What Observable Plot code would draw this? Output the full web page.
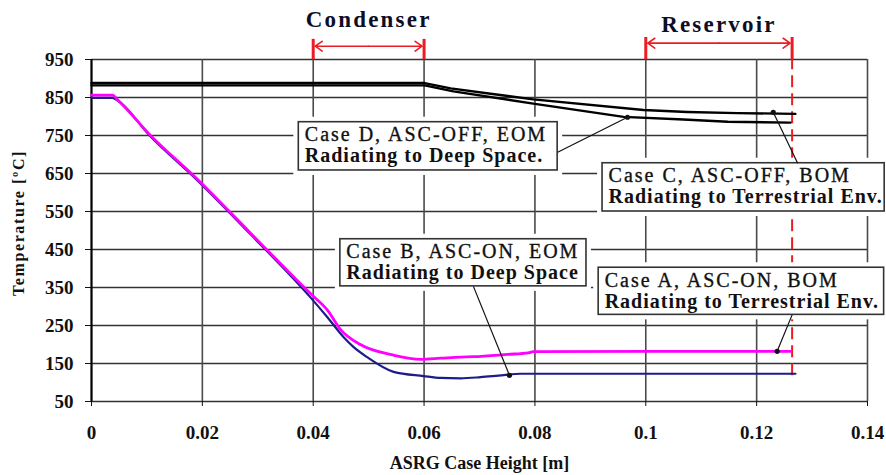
<!DOCTYPE html>
<html><head><meta charset="utf-8">
<script src="https://cdn.jsdelivr.net/npm/d3@7"></script>
<script src="https://cdn.jsdelivr.net/npm/@observablehq/plot@0.6"></script>
<style>html,body{margin:0;padding:0;background:#fff;} #chart{width:886px;height:475px;overflow:hidden;}</style>
</head><body><div id="chart"></div>
<script>
// ---- axes ----
const xTicks = [0, 0.02, 0.04, 0.06, 0.08, 0.1, 0.12, 0.14];
const xTickLabels = ["0", "0.02", "0.04", "0.06", "0.08", "0.1", "0.12", "0.14"];
const yTicks = [50, 150, 250, 350, 450, 550, 650, 750, 850, 950];
const yTickLabels = ["50", "150", "250", "350", "450", "550", "650", "750", "850", "950"];
const xLabel = "ASRG Case Height [m]";
const yLabel = "Temperature [ºC]";

// ---- series ----
const caseAx = [0, 0.0038, 0.0047, 0.0106, 0.0191, 0.0287, 0.0395, 0.0426, 0.0449, 0.0485, 0.0545, 0.0594, 0.0630, 0.0666, 0.0689, 0.0751, 0.0788, 0.0797, 0.1000, 0.1261];
const caseAy = [856, 856, 844, 751, 635, 493, 334, 290, 240, 200, 172, 161, 164, 167, 168, 174, 178, 181, 182, 182];
const caseBx = [0, 0.0038, 0.0047, 0.0106, 0.0191, 0.0287, 0.0395, 0.0426, 0.0455, 0.0473, 0.0498, 0.0545, 0.0599, 0.0630, 0.0666, 0.0702, 0.0734, 0.0774, 0.1000, 0.1270];
const caseBy = [849, 849, 842, 748, 632, 490, 324, 271, 219, 193, 166, 128, 117, 112, 111, 114, 118, 123, 123, 123];
const caseCx = [0, 0.0601, 0.0648, 0.0720, 0.0797, 0.0996, 0.1075, 0.1165, 0.1270];
const caseCy = [888, 888, 874, 860, 845, 817, 812, 809, 807];
const caseDx = [0, 0.0601, 0.0653, 0.0797, 0.0960, 0.1068, 0.1148, 0.1261];
const caseDy = [882, 882, 866, 834, 799, 792, 786, 784];

// ---- annotation boxes (data units) ----
const boxLine1 = ["Case D, ASC-OFF, EOM", "Case C, ASC-OFF, BOM", "Case B, ASC-ON, EOM", "Case A, ASC-ON, BOM"];
const boxLine2 = ["Radiating to Deep Space.", "Radiating to Terrestrial Env.", "Radiating to Deep Space", "Radiating to Terrestrial Env."];
const boxX1 = [0.0374, 0.0922, 0.0449, 0.0915];
const boxX2 = [0.0841, 0.1431, 0.0893, 0.1430];
const boxBottom = [658, 550, 353, 278];
const boxTop = [785, 677, 477, 402];
const pointX = [0.0967, 0.1230, 0.0754, 0.1237];
const pointY = [798, 811, 119, 182];
const leaderX = [0.0841, 0.1274, 0.0689, 0.1264];
const leaderY = [706, 677, 353, 278];

// ---- region markers ----
const spanNames = ["Condenser", "Reservoir"];
const spanStart = [0.04, 0.1];
const spanEnd = [0.06, 0.1264];
const spanTop = [1003, 1008];
const spanArrowY = [985, 993];
const spanLabelY = [1035, 1022];
const dashBottom = 118;

const serif = "'Liberation Serif', 'Times New Roman', Times, serif";
const red = "#ec1c24";
const rows = (xs, ys) => xs.map((x, i) => ({x, y: ys[i]}));
const xLab = new Map(xTicks.map((t, i) => [t, xTickLabels[i]]));
const yLab = new Map(yTicks.map((t, i) => [t, yTickLabels[i]]));
const boxes = boxLine1.map((t, i) => ({
  x1: boxX1[i], x2: boxX2[i], y1: boxBottom[i], y2: boxTop[i],
  line1: t, line2: boxLine2[i], px: pointX[i], py: pointY[i], lx: leaderX[i], ly: leaderY[i]
}));
const spans = spanNames.map((n, i) => ({
  name: n, x1: spanStart[i], x2: spanEnd[i], mid: (spanStart[i] + spanEnd[i]) / 2,
  top: spanTop[i], ay: spanArrowY[i], ly: spanLabelY[i]
}));
const bars = spans.flatMap(s => [{x: s.x1, top: s.top}, {x: s.x2, top: s.top}]);

const plot = Plot.plot({
  width: 886, height: 475,
  marginLeft: 91, marginRight: 19, marginTop: 59, marginBottom: 74,
  x: {domain: [0, 0.14]},
  y: {domain: [50, 950]},
  style: {fontFamily: serif, background: "#fff", color: "#111"},
  marks: [
    Plot.gridY(yTicks, {stroke: "#333", strokeOpacity: 1, strokeWidth: 1.6}),
    Plot.gridX(xTicks, {stroke: "#4a4a4a", strokeOpacity: 1, strokeWidth: 1.6}),
    Plot.ruleX([spanEnd[1]], {y1: dashBottom, y2: 950, stroke: red, strokeWidth: 2, strokeDasharray: "12,6"}),
    Plot.axisX(xTicks, {tickSize: 5, tickPadding: 19, tickFormat: d => xLab.get(d), fontSize: 19, fontWeight: "bold", fontFamily: serif, label: null, color: "#111"}),
    Plot.axisY(yTicks, {tickSize: 6, tickPadding: 12, tickFormat: d => yLab.get(d), fontSize: 19, fontWeight: "bold", fontFamily: serif, label: null, color: "#111"}),
    Plot.ruleX([0], {stroke: "#000", strokeWidth: 2}),
    Plot.line(rows(caseCx, caseCy), {x: "x", y: "y", stroke: "#000", strokeWidth: 2.4}),
    Plot.line(rows(caseDx, caseDy), {x: "x", y: "y", stroke: "#000", strokeWidth: 2.4}),
    Plot.line(rows(caseBx, caseBy), {x: "x", y: "y", curve: "monotone-x", stroke: "#1c1c8a", strokeWidth: 2.2}),
    Plot.line(rows(caseAx, caseAy), {x: "x", y: "y", curve: "monotone-x", stroke: "#ff00ff", strokeWidth: 2.8}),
    Plot.rect(boxes, {x1: "x1", x2: "x2", y1: "y1", y2: "y2", fill: "#fff", inset: -5}),
    Plot.rect(boxes, {x1: "x1", x2: "x2", y1: "y1", y2: "y2", fill: "#fff", stroke: "#333", strokeWidth: 1.6}),
    Plot.text(boxes, {x: "x1", y: "y2", text: "line1", dx: 6, dy: 19, textAnchor: "start", lineAnchor: "bottom", fontSize: 20, fontFamily: serif, fill: "#111", stroke: "#111", strokeWidth: 0.35}),
    Plot.text(boxes, {x: "x1", y: "y2", text: "line2", dx: 6, dy: 40, textAnchor: "start", lineAnchor: "bottom", fontSize: 20, fontWeight: "bold", fontFamily: serif, fill: "#111"}),
    Plot.link(boxes, {x1: "lx", y1: "ly", x2: "px", y2: "py", stroke: "#111", strokeWidth: 1.2}),
    Plot.dot(boxes, {x: "px", y: "py", r: 2.6, fill: "#111"}),
    Plot.ruleX(bars, {x: "x", y1: 950, y2: "top", stroke: red, strokeWidth: 3}),
    Plot.arrow(spans, {x1: "mid", x2: "x1", y1: "ay", y2: "ay", bend: 0, headLength: 8, headAngle: 70, insetEnd: 2, stroke: red, strokeWidth: 1.6}),
    Plot.arrow(spans, {x1: "mid", x2: "x2", y1: "ay", y2: "ay", bend: 0, headLength: 8, headAngle: 70, insetEnd: 2, stroke: red, strokeWidth: 1.6}),
    Plot.text(spans, {x: "mid", y: "ly", text: "name", lineAnchor: "bottom", textAnchor: "middle", fontSize: 23, fontWeight: "bold", fontFamily: serif, fill: "#0d0d26"}),
    Plot.text([xLabel], {text: d => d, frameAnchor: "bottom", dy: 67, lineAnchor: "bottom", textAnchor: "middle", fontSize: 18, fontWeight: "bold", fontFamily: serif, fill: "#111"}),
    Plot.text([yLabel], {text: d => d, frameAnchor: "left", rotate: -90, dx: -73, dy: -7.5, lineAnchor: "middle", textAnchor: "middle", fontSize: 16, fontWeight: "bold", fontFamily: serif, fill: "#111"})
  ]
});

const sel = d3.select(plot);
const spacing = (list, v) => sel.selectAll("text").filter(function () { return list.includes(this.textContent); }).style("letter-spacing", v);
spacing(boxLine1, "2px");
spacing(boxLine2, "1px");
spacing(spanNames, "2.2px");
spacing([yLabel], "1.6px");
document.getElementById("chart").appendChild(plot);
</script>
</body></html>
